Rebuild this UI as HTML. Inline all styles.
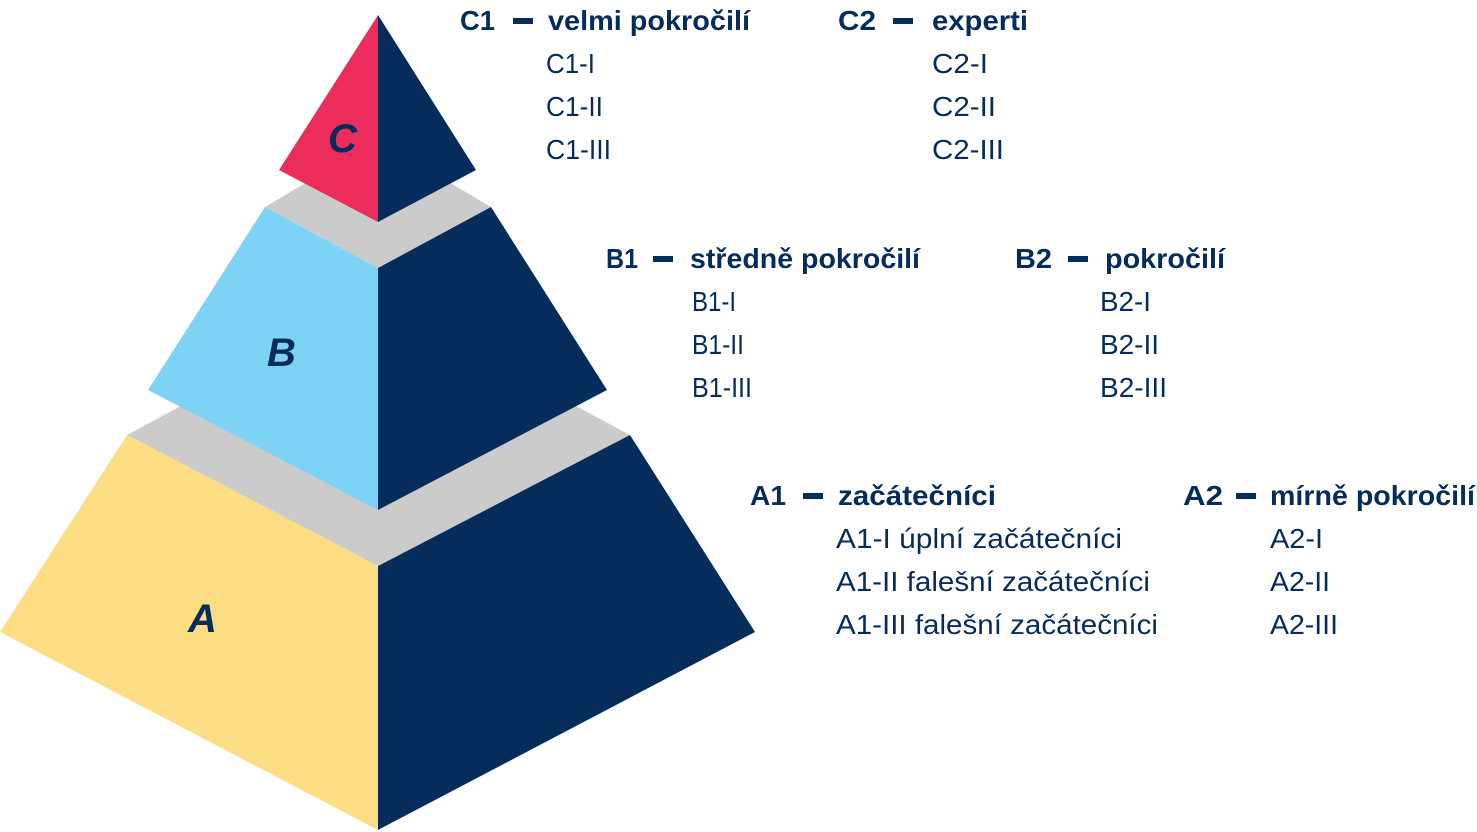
<!DOCTYPE html>
<html><head><meta charset="utf-8"><style>html,body{margin:0;padding:0;background:#fff}svg{display:block}</style></head>
<body>
<svg width="1477" height="832" viewBox="0 0 1477 832" xmlns="http://www.w3.org/2000/svg">
<g>
<polygon points="127,435 378,300 630,435 378,566" fill="#cbcbcb"/>
<polygon points="127,435 378,566 378,830 0,632" fill="#fcdd83"/>
<polygon points="378,566 630,435 755,632 378,830" fill="#062c5b"/>
<polygon points="265,207 378,140 491,207 378,268" fill="#cbcbcb"/>
<polygon points="265,207 378,268 378,510 148,390" fill="#7dd3f5"/>
<polygon points="378,268 491,207 607,390 378,510" fill="#062c5b"/>
<polygon points="378,15 378,222 279,170" fill="#ec2c5a"/>
<polygon points="378,15 476,170 378,222" fill="#062c5b"/>
</g>
<g font-family="Liberation Sans, sans-serif" font-weight="bold" font-style="italic" fill="#062c5b" font-size="40">
<text x="328" y="152">C</text>
<text x="267" y="366">B</text>
<text x="188" y="632">A</text>
</g>
<g font-family="Liberation Sans, sans-serif" fill="#062c5b" font-size="28" lengthAdjust="spacingAndGlyphs">
<g font-weight="bold">
<text x="460" y="30" textLength="35" lengthAdjust="spacingAndGlyphs">C1</text>
<text x="548" y="30" textLength="202" lengthAdjust="spacingAndGlyphs">velmi pokročilí</text>
<text x="838" y="30" textLength="38" lengthAdjust="spacingAndGlyphs">C2</text>
<text x="932" y="30" textLength="96" lengthAdjust="spacingAndGlyphs">experti</text>
<text x="606" y="268" textLength="32" lengthAdjust="spacingAndGlyphs">B1</text>
<text x="690" y="268" textLength="230" lengthAdjust="spacingAndGlyphs">středně pokročilí</text>
<text x="1015" y="268" textLength="37" lengthAdjust="spacingAndGlyphs">B2</text>
<text x="1105" y="268" textLength="120" lengthAdjust="spacingAndGlyphs">pokročilí</text>
<text x="750" y="505" textLength="36" lengthAdjust="spacingAndGlyphs">A1</text>
<text x="838" y="505" textLength="158" lengthAdjust="spacingAndGlyphs">začátečníci</text>
<text x="1183" y="505" textLength="40" lengthAdjust="spacingAndGlyphs">A2</text>
<text x="1270" y="505" textLength="205" lengthAdjust="spacingAndGlyphs">mírně pokročilí</text>
</g>
<rect x="513" y="18" width="20" height="6" fill="#062c5b"/>
<rect x="893" y="18" width="20" height="6" fill="#062c5b"/>
<rect x="653" y="256" width="20" height="6" fill="#062c5b"/>
<rect x="1068" y="256" width="20" height="6" fill="#062c5b"/>
<rect x="803" y="493" width="20" height="6" fill="#062c5b"/>
<rect x="1236" y="493" width="20" height="6" fill="#062c5b"/>
<text x="546" y="73" textLength="49" lengthAdjust="spacingAndGlyphs">C1-I</text>
<text x="546" y="116" textLength="57" lengthAdjust="spacingAndGlyphs">C1-II</text>
<text x="546" y="159" textLength="65" lengthAdjust="spacingAndGlyphs">C1-III</text>
<text x="932" y="73" textLength="56" lengthAdjust="spacingAndGlyphs">C2-I</text>
<text x="932" y="116" textLength="64" lengthAdjust="spacingAndGlyphs">C2-II</text>
<text x="932" y="159" textLength="72" lengthAdjust="spacingAndGlyphs">C2-III</text>
<text x="692" y="311" textLength="44" lengthAdjust="spacingAndGlyphs">B1-I</text>
<text x="692" y="354" textLength="52" lengthAdjust="spacingAndGlyphs">B1-II</text>
<text x="692" y="397" textLength="60" lengthAdjust="spacingAndGlyphs">B1-III</text>
<text x="1100" y="311" textLength="51" lengthAdjust="spacingAndGlyphs">B2-I</text>
<text x="1100" y="354" textLength="59" lengthAdjust="spacingAndGlyphs">B2-II</text>
<text x="1100" y="397" textLength="67" lengthAdjust="spacingAndGlyphs">B2-III</text>
<text x="836" y="548" textLength="286" lengthAdjust="spacingAndGlyphs">A1-I úplní začátečníci</text>
<text x="836" y="591" textLength="314" lengthAdjust="spacingAndGlyphs">A1-II falešní začátečníci</text>
<text x="836" y="634" textLength="322" lengthAdjust="spacingAndGlyphs">A1-III falešní začátečníci</text>
<text x="1270" y="548" textLength="53" lengthAdjust="spacingAndGlyphs">A2-I</text>
<text x="1270" y="591" textLength="60" lengthAdjust="spacingAndGlyphs">A2-II</text>
<text x="1270" y="634" textLength="68" lengthAdjust="spacingAndGlyphs">A2-III</text>
</g>
</svg>
</body></html>
